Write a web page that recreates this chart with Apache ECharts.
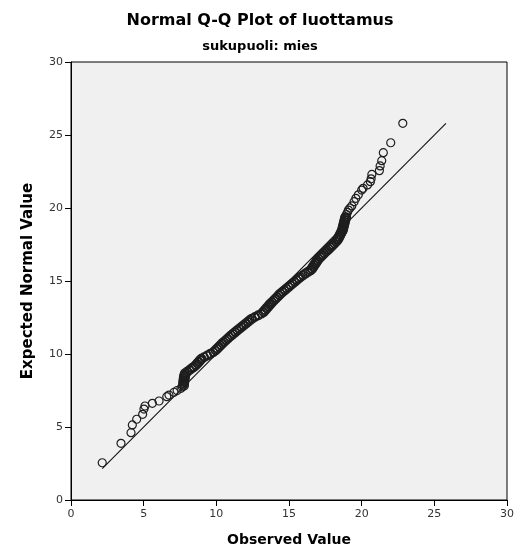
<!DOCTYPE html>
<html>
<head>
<meta charset="utf-8">
<script src="https://cdn.jsdelivr.net/npm/echarts@6/dist/echarts.min.js"></script>
<style>html,body{margin:0;padding:0;background:#fff}#c{width:520px;height:550px}</style>
</head>
<body>
<div id="c"></div>
<script>
var titleText = 'Normal Q-Q Plot of luottamus';
var subtitleText = 'sukupuoli: mies';
var xName = 'Observed Value';
var yName = 'Expected Normal Value';
var xTicks = [0, 5, 10, 15, 20, 25, 30];
var yTicks = [0, 5, 10, 15, 20, 25, 30];

var observed = [
  2.15, 3.44, 4.13, 4.22, 4.52, 4.93, 5.02, 5.09, 5.6, 6.06, 6.59, 6.74, 7.09, 7.3, 7.57,
  7.65, 7.68, 7.7, 7.7, 7.72, 7.73, 7.75, 7.78, 7.82,
  7.98, 8.15, 8.3, 8.42,
  8.55, 8.65, 8.76, 8.86, 8.95,
  9.15, 9.37, 9.58, 9.79,
  9.91, 10.03, 10.15, 10.27, 10.38, 10.48,
  10.62, 10.75, 10.88, 11.0,
  11.12, 11.26, 11.41, 11.56, 11.7,
  11.85, 12.0, 12.15, 12.29, 12.43,
  12.66, 12.88, 13.1,
  13.2, 13.31, 13.41, 13.52, 13.62, 13.7,
  13.81, 13.93, 14.05, 14.17, 14.28, 14.38,
  14.52, 14.67, 14.81, 14.96, 15.07,
  15.21, 15.36, 15.5, 15.64, 15.76,
  15.94, 16.12, 16.3, 16.45,
  16.53, 16.61, 16.69, 16.77, 16.85, 16.91,
  17.03, 17.15, 17.27, 17.39, 17.5, 17.6,
  17.72, 17.84, 17.96, 18.08, 18.19, 18.28,
  18.34, 18.4, 18.46, 18.52, 18.58, 18.62,
  18.65, 18.68, 18.71, 18.74, 18.77, 18.8, 18.83, 18.86,
  18.95, 19.02, 19.09, 19.2, 19.32, 19.48, 19.6, 19.77, 20.0, 20.1, 20.4,
  20.6, 20.65, 20.7, 21.22, 21.27, 21.38, 21.49, 22.0, 22.83
];
var expected = [
  2.55, 3.88, 4.61, 5.14, 5.53, 5.87, 6.23, 6.44, 6.62, 6.78, 7.08, 7.19, 7.38, 7.5, 7.65,
  7.75, 7.87, 7.99, 8.11, 8.23, 8.35, 8.47, 8.59, 8.7,
  8.82, 8.94, 9.05, 9.13,
  9.25, 9.37, 9.49, 9.6, 9.7,
  9.81, 9.93, 10.05, 10.16,
  10.28, 10.4, 10.52, 10.64, 10.75, 10.84,
  10.96, 11.08, 11.2, 11.3,
  11.4, 11.52, 11.64, 11.76, 11.87,
  11.99, 12.11, 12.23, 12.35, 12.45,
  12.56, 12.68, 12.79,
  12.91, 13.03, 13.15, 13.27, 13.39, 13.47,
  13.58, 13.7, 13.82, 13.94, 14.06, 14.16,
  14.28, 14.4, 14.52, 14.64, 14.73,
  14.85, 14.97, 15.09, 15.2, 15.3,
  15.42, 15.54, 15.66, 15.75,
  15.87, 15.99, 16.11, 16.23, 16.35, 16.44,
  16.56, 16.68, 16.8, 16.92, 17.03, 17.12,
  17.24, 17.36, 17.48, 17.6, 17.71, 17.81,
  17.93, 18.05, 18.17, 18.29, 18.41, 18.49,
  18.61, 18.73, 18.85, 18.97, 19.09, 19.21, 19.33, 19.4,
  19.55, 19.7, 19.86, 20.0, 20.14, 20.43, 20.66, 20.9, 21.23, 21.35, 21.58,
  21.8, 22.0, 22.3, 22.56, 22.88, 23.24, 23.79, 24.47, 25.8
];
// further cases in the dense middle band (its lower-right side)
var bandObserved = [
  7.79, 7.81, 7.82, 7.83, 7.85, 7.86, 7.89, 7.92,
  8.02, 8.19, 8.35, 8.48,
  8.6, 8.72, 8.83, 8.93, 9.02,
  9.17, 9.38, 9.6, 9.8,
  9.97, 10.09, 10.21, 10.33, 10.45, 10.55,
  10.67, 10.8, 10.93, 11.06,
  11.18, 11.31, 11.45, 11.6, 11.75,
  11.9, 12.05, 12.2, 12.34, 12.48,
  12.67, 12.89, 13.11,
  13.27, 13.38, 13.48, 13.59, 13.69, 13.78,
  13.87, 13.99, 14.11, 14.23, 14.35, 14.45,
  14.57, 14.72, 14.86, 15.0, 15.13,
  15.26, 15.41, 15.55, 15.69, 15.82,
  15.97, 16.15, 16.33, 16.5,
  16.61, 16.69, 16.77, 16.85, 16.93, 17.0,
  17.09, 17.21, 17.33, 17.45, 17.56, 17.67,
  17.78, 17.9, 18.02, 18.14, 18.25, 18.35,
  18.43, 18.49, 18.55, 18.61, 18.67, 18.72,
  18.75, 18.78, 18.81, 18.84, 18.87, 18.9, 18.93, 18.96
];
var bandExpected = [
  7.81, 7.93, 8.05, 8.17, 8.29, 8.41, 8.53, 8.65,
  8.76, 8.88, 9.0, 9.09,
  9.19, 9.31, 9.43, 9.55, 9.65,
  9.76, 9.87, 9.99, 10.11,
  10.22, 10.34, 10.46, 10.58, 10.7, 10.8,
  10.9, 11.02, 11.14, 11.25,
  11.35, 11.46, 11.58, 11.7, 11.82,
  11.93, 12.05, 12.17, 12.29, 12.4,
  12.51, 12.62, 12.74,
  12.85, 12.97, 13.09, 13.21, 13.33, 13.43,
  13.53, 13.64, 13.76, 13.88, 14.0, 14.11,
  14.22, 14.34, 14.46, 14.58, 14.69,
  14.79, 14.91, 15.03, 15.15, 15.25,
  15.36, 15.48, 15.6, 15.71,
  15.81, 15.93, 16.05, 16.17, 16.29, 16.4,
  16.5, 16.62, 16.74, 16.86, 16.98, 17.08,
  17.18, 17.3, 17.42, 17.54, 17.66, 17.76,
  17.87, 17.99, 18.11, 18.23, 18.35, 18.45,
  18.55, 18.67, 18.79, 18.91, 19.03, 19.15, 19.27, 19.37
];
// reference line endpoints (y = x)
var lineStart = 2.15;
var lineEnd = 25.8;

var points = observed.map(function (v, i) { return [v, expected[i]]; })
  .concat(bandObserved.map(function (v, i) { return [v, bandExpected[i]]; }));
var font = 'DejaVu Sans';

var chart = echarts.init(document.getElementById('c'), null, {renderer: 'canvas'});
chart.setOption({
  backgroundColor: '#ffffff',
  animation: false,
  title: [
    {text: titleText, left: 'center', top: 8,
     textStyle: {fontFamily: font, fontSize: 16, fontWeight: 'bold', color: '#000'}},
    {text: subtitleText, left: 'center', top: 35,
     textStyle: {fontFamily: font, fontSize: 13, fontWeight: 'bold', color: '#000'}}
  ],
  grid: {left: 71, right: 13, top: 62, bottom: 50, show: true, containLabel: false,
         outerBoundsMode: 'none',
         backgroundColor: '#f0f0f0', borderColor: '#000', borderWidth: 1},
  xAxis: {
    type: 'value', min: xTicks[0], max: xTicks[xTicks.length - 1], interval: 5,
    name: xName, nameLocation: 'middle', nameGap: 33,
    nameTextStyle: {fontFamily: font, fontSize: 14, fontWeight: 'bold', color: '#000'},
    axisLine: {show: true, lineStyle: {color: '#000', width: 1}},
    axisTick: {show: true, length: 6, lineStyle: {color: '#000'}},
    axisLabel: {fontFamily: font, fontSize: 11, color: '#333', margin: 9},
    splitLine: {show: false}
  },
  yAxis: {
    type: 'value', min: yTicks[0], max: yTicks[yTicks.length - 1], interval: 5,
    name: yName, nameLocation: 'middle', nameGap: 35, nameRotate: 90,
    nameTextStyle: {fontFamily: font, fontSize: 15, fontWeight: 'bold', color: '#000'},
    axisLine: {show: true, lineStyle: {color: '#000', width: 1}},
    axisTick: {show: true, length: 6, lineStyle: {color: '#000'}},
    axisLabel: {fontFamily: font, fontSize: 11, color: '#333', margin: 8},
    splitLine: {show: false}
  },
  series: [
    {type: 'line', data: [[lineStart, lineStart], [lineEnd, lineEnd]], showSymbol: false,
     symbol: 'none', lineStyle: {color: '#111', width: 1.1}, silent: true, z: 2},
    {type: 'scatter', data: points, symbol: 'circle', symbolSize: 8, z: 3,
     itemStyle: {color: 'rgba(0,0,0,0)', borderColor: '#1e1e1e', borderWidth: 1.2, opacity: 1},
     emphasis: {disabled: true}, silent: true}
  ]
});
</script>
</body>
</html>
